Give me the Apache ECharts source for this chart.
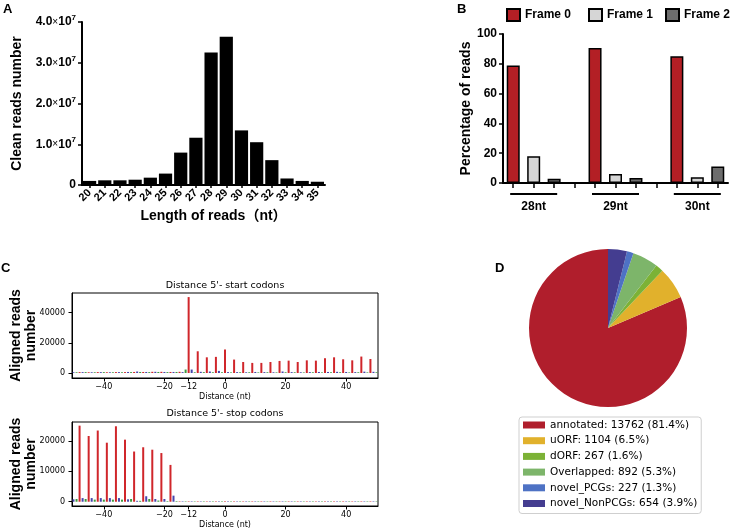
<!DOCTYPE html>
<html><head><meta charset="utf-8">
<script src="https://cdn.jsdelivr.net/npm/echarts@6/dist/echarts.min.js"></script>
<style>html,body{margin:0;padding:0;background:#fff}#c{width:732px;height:532px}</style>
</head><body><div id="c"></div>
<script>
// ---------- Panel A ----------
const lengthCats = ['20','21','22','23','24','25','26','27','28','29','30','31','32','33','34','35'];
const cleanReads = [1.0e6, 1.15e6, 1.15e6, 1.3e6, 1.8e6, 2.8e6, 7.95e6, 1.16e7, 3.25e7, 3.64e7, 1.34e7, 1.05e7, 6.1e6, 1.6e6, 1.0e6, 0.8e6];

// ---------- Panel B ----------
const readGroups = ['28nt', '29nt', '30nt'];
const frameNames = ['Frame 0', 'Frame 1', 'Frame 2'];
const frame0Pct = [78.9, 90.6, 85.0];
const frame1Pct = [18.0, 6.1, 3.8];
const frame2Pct = [2.9, 3.4, 11.0];

// ---------- Panel C ----------
// values at positions (nt) for the three frames; red frame starts at -48, blue at -50, green at -49, step 3
const startRed = [600, 500, 600, 500, 600, 600, 700, 700, 800, 800, 700, 800, 50300, 14400, 10400, 10700, 15600, 8900, 7300, 6700, 6700, 7300, 8000, 8200, 7300, 8400, 8200, 9800, 10400, 9100, 8400, 10900, 9300];
const startBlue = [500, 600, 500, 600, 500, 600, 700, 1000, 700, 800, 700, 700, 600, 2300, 800, 1000, 1400, 600, 600, 500, 700, 600, 500, 1000, 600, 500, 600, 700, 700, 800, 700, 600, 900, 800];
const startGreen = [500, 600, 500, 600, 500, 500, 600, 700, 600, 700, 600, 700, 2300, 500, 600, 500, 500, 400, 500, 500, 400, 500, 400, 500, 500, 400, 500, 400, 500, 500, 400, 500, 400, 500];
const stopRed = [25000, 21600, 23400, 19400, 24800, 20400, 16500, 17900, 17100, 16000, 12100, 150, 150, 150, 140, 150, 150, 150, 140, 150, 150, 150, 140, 150, 150, 150, 140, 150, 150, 150, 140, 150, 150];
const stopBlue = [800, 1200, 1200, 1200, 1200, 1200, 800, 300, 1800, 900, 900, 2000, 150, 150, 140, 150, 150, 150, 140, 150, 150, 150, 140, 150, 150, 150, 140, 150, 150, 150, 140, 150, 150, 150];
const stopGreen = [900, 900, 700, 700, 700, 700, 900, 300, 900, 400, 200, 200, 150, 140, 150, 150, 150, 140, 150, 150, 150, 140, 150, 150, 150, 140, 150, 150, 150, 140, 150, 150, 150, 140];
const distXTicks = [-40, -20, -12, 0, 20, 40];
const startYTicks = [0, 20000, 40000];
const stopYTicks = [0, 10000, 20000];

// ---------- Panel D ----------
const orfNames = ['annotated', 'uORF', 'dORF', 'Overlapped', 'novel_PCGs', 'novel_NonPCGs'];
const orfCounts = [13762, 1104, 267, 892, 227, 654];

// ---------- build ----------
const fA = 'Liberation Sans, Arial, Noto Sans CJK SC, sans-serif';
const fC = 'DejaVu Sans, sans-serif';
const startPos = {red: -48, blue: -50, green: -49};
function toPairs(vals, start) { return vals.map((v, i) => [start + 3 * i, v]); }

const slots = [];
readGroups.forEach((g, gi) => {
  frameNames.forEach((f, fi) => slots.push(g + '|' + fi));
  if (gi < readGroups.length - 1) slots.push(g + '|gap');
});
const framePct = [frame0Pct, frame1Pct, frame2Pct];
const frameColors = ['#b31f25', '#d6d6d6', '#6d6d6d'];
const frameLegendLeft = [506, 588, 665];

const pieColors = ['#b01e2c', '#e1b12c', '#7cb236', '#7db56a', '#4e72c4', '#443d90'];
const orfTotal = orfCounts.reduce((a, b) => a + b, 0);

const minusFmt = v => v < 0 ? '\u2212' + (-v) : String(v);

const axisBlackA = {lineStyle: {color: '#000', width: 2}};
const cColors = {red: '#d0262b', blue: '#4646ad', green: '#3e9a3e'};

function cSeries(xi, red, blue, green) {
  return [['red', red], ['blue', blue], ['green', green]].map(([k, arr]) => ({
    type: 'bar', xAxisIndex: xi, yAxisIndex: xi,
    data: toPairs(arr, startPos[k]), barWidth: 2, barGap: '-100%',
    itemStyle: {color: cColors[k]}, silent: true, animation: false
  }));
}

const cXAxis = (gi) => ({
  type: 'value', gridIndex: gi, min: -50.5, max: 50.5,
  axisLine: {show: true, onZero: false, lineStyle: {color: '#000', width: 1}},
  axisTick: {show: true, length: 3.5, customValues: distXTicks, lineStyle: {color: '#000'}},
  axisLabel: {customValues: distXTicks, formatter: minusFmt, fontFamily: fC, fontSize: 8, color: '#000', margin: 5},
  splitLine: {show: false},
  name: 'Distance (nt)', nameLocation: 'middle', nameGap: 15,
  nameTextStyle: {fontFamily: fC, fontSize: 8, color: '#000'}
});
const cYAxis = (gi, min, max, ticks) => ({
  type: 'value', gridIndex: gi, min: min, max: max,
  axisLine: {show: true, onZero: false, lineStyle: {color: '#000', width: 1}},
  axisTick: {show: true, length: 3.5, customValues: ticks, lineStyle: {color: '#000'}},
  axisLabel: {customValues: ticks, formatter: v => String(v), fontFamily: fC, fontSize: 8, color: '#000', margin: 7},
  splitLine: {show: false},
  name: 'Aligned reads\nnumber', nameLocation: 'middle', nameGap: 33, nameRotate: 90, nameMoveOverlap: false,
  nameTextStyle: {fontFamily: fA, fontSize: 14, fontWeight: 'bold', color: '#000', lineHeight: 15}
});

const option = {
  animation: false,
  backgroundColor: '#fff',
  grid: [
    {left: 82, top: 22, width: 243, height: 163},
    {left: 503, top: 34, width: 225, height: 149},
    {left: 72, top: 293, width: 306, height: 85, show: true, borderColor: '#000', borderWidth: 1, backgroundColor: 'transparent'},
    {left: 72, top: 422, width: 306, height: 84, show: true, borderColor: '#000', borderWidth: 1, backgroundColor: 'transparent'}
  ],
  xAxis: [
    {type: 'category', gridIndex: 0, data: lengthCats,
     axisLine: axisBlackA, axisTick: {show: true, alignWithLabel: true, length: 3, lineStyle: {color: '#000', width: 1.5}},
     axisLabel: {rotate: 45, interval: 0, fontFamily: fA, fontWeight: 'bold', fontSize: 11, color: '#000', margin: 6},
     name: 'Length of reads（nt）', nameLocation: 'middle', nameGap: 24,
     nameTextStyle: {fontFamily: fA, fontWeight: 'bold', fontSize: 14, color: '#000', padding: [0, 0, 0, 20]}},
    {type: 'category', gridIndex: 1, data: slots,
     axisLine: axisBlackA, axisTick: {show: true, alignWithLabel: true, interval: 0, length: 5, lineStyle: {color: '#000', width: 1.5}},
     axisLabel: {interval: 0, margin: 10, formatter: v => {
        const [g, k] = v.split('|');
        return k === '1' ? '{line|}\n{t|' + g + '}' : '';
      }, rich: {
        line: {width: 47, height: 2, backgroundColor: '#000'},
        t: {fontFamily: fA, fontWeight: 'bold', fontSize: 12, color: '#000', padding: [6, 0, 0, 0]}
      }}},
    cXAxis(2), cXAxis(3)
  ],
  yAxis: [
    {type: 'value', gridIndex: 0, min: 0, max: 4e7, interval: 1e7,
     axisLine: {show: true, lineStyle: {color: '#000', width: 2}},
     axisTick: {show: true, length: 4, lineStyle: {color: '#000', width: 1.5}},
     splitLine: {show: false},
     axisLabel: {margin: 6, color: '#000', formatter: v => v === 0 ? '{m|0}' : '{m|' + (v / 1e7).toFixed(1) + '}{x|×}{m|10}{s|7}',
       rich: {m: {fontFamily: fA, fontWeight: 'bold', fontSize: 12, color: '#000'},
              x: {fontFamily: fA, fontSize: 10, color: '#000'},
              s: {fontFamily: fA, fontWeight: 'bold', fontSize: 8, color: '#000', padding: [0, 0, 8, 0]}}},
     name: 'Clean reads number', nameLocation: 'middle', nameGap: 58,
     nameTextStyle: {fontFamily: fA, fontWeight: 'bold', fontSize: 14, color: '#000'}},
    {type: 'value', gridIndex: 1, min: 0, max: 100, interval: 20,
     axisLine: {show: true, lineStyle: {color: '#000', width: 2}},
     axisTick: {show: true, length: 4, lineStyle: {color: '#000', width: 1.5}},
     splitLine: {show: false},
     axisLabel: {margin: 6, fontFamily: fA, fontWeight: 'bold', fontSize: 12, color: '#000'},
     name: 'Percentage of reads', nameLocation: 'middle', nameGap: 28,
     nameTextStyle: {fontFamily: fA, fontWeight: 'bold', fontSize: 14, color: '#000'}},
    cYAxis(2, -3300, 53000, startYTicks),
    cYAxis(3, -1400, 26200, stopYTicks)
  ],
  legend: [
    ...frameNames.map((n, i) => ({data: [n], left: frameLegendLeft[i], top: 8, icon: 'rect', itemWidth: 13, itemHeight: 12, itemTextGap: 5,
      padding: 0, textStyle: {fontFamily: fA, fontWeight: 'bold', fontSize: 12, color: '#000'}, selectedMode: false})),
    {data: orfNames, left: 519, top: 417, orient: 'vertical', icon: 'rect', itemWidth: 22, itemHeight: 7, itemGap: 3.7, itemTextGap: 8,
     padding: [2, 4, 4, 4], borderColor: '#cfcfcf', borderWidth: 1, borderRadius: 3, selectedMode: false,
     textStyle: {fontFamily: fC, fontSize: 10.5, color: '#000', lineHeight: 12},
     formatter: name => {
       const i = orfNames.indexOf(name);
       return name + ': ' + orfCounts[i] + ' (' + (orfCounts[i] / orfTotal * 100).toFixed(1) + '%)';
     }}
  ],
  graphic: [
    {type: 'text', left: 3, top: 3, style: {text: 'A', font: 'bold 13px ' + fA, fill: '#000'}},
    {type: 'text', left: 457, top: 3, style: {text: 'B', font: 'bold 13px ' + fA, fill: '#000'}},
    {type: 'text', left: 1, top: 262, style: {text: 'C', font: 'bold 13px ' + fA, fill: '#000'}},
    {type: 'text', left: 495, top: 262, style: {text: 'D', font: 'bold 13px ' + fA, fill: '#000'}},
    {type: 'text', x: 225, y: 286, style: {text: "Distance 5'- start codons", font: '9.5px ' + fC, fill: '#000', textAlign: 'center', textVerticalAlign: 'middle'}},
    {type: 'text', x: 225, y: 414, style: {text: "Distance 5'- stop codons", font: '9.5px ' + fC, fill: '#000', textAlign: 'center', textVerticalAlign: 'middle'}}
  ],
  series: [
    {type: 'bar', xAxisIndex: 0, yAxisIndex: 0, data: cleanReads, barCategoryGap: '13%', itemStyle: {color: '#000'}},
    ...framePct.map((arr, fi) => ({
      type: 'bar', name: frameNames[fi], xAxisIndex: 1, yAxisIndex: 1, stack: 'frames', barWidth: 13,
      data: slots.map(s => { const [g, k] = s.split('|'); return k === String(fi) ? arr[readGroups.indexOf(g)] : '-'; }),
      itemStyle: {color: frameColors[fi], borderColor: '#000', borderWidth: 1.5}
    })),
    ...cSeries(2, startRed, startBlue, startGreen),
    ...cSeries(3, stopRed, stopBlue, stopGreen),
    {type: 'pie', center: [608, 328], radius: 79, startAngle: 90, clockwise: false,
     label: {show: false}, labelLine: {show: false}, silent: true,
     data: orfNames.map((n, i) => ({name: n, value: orfCounts[i], itemStyle: {color: pieColors[i]}}))}
  ]
};
const chart = echarts.init(document.getElementById('c'));
chart.setOption(option);
</script></body></html>
